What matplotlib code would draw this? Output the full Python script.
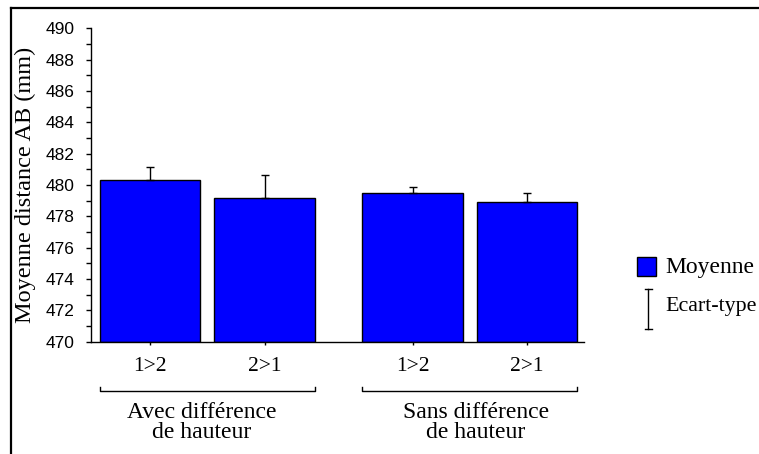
import matplotlib
matplotlib.use('Agg')
import matplotlib.pyplot as plt
from matplotlib.lines import Line2D
from matplotlib.patches import Rectangle
from matplotlib.ticker import MultipleLocator
import numpy as np

# données
groupes = ['Avec différence\nde hauteur', 'Sans différence\nde hauteur']
conditions = ['1>2', '2>1', '1>2', '2>1']
groupe_idx = [0, 0, 1, 1]
moyennes = [480.32, 479.15, 479.47, 478.93]
ecarts = [0.81, 1.47, 0.40, 0.54]

BLEU = '#0000ff'
SERIF = 'Liberation Serif'
SANS = 'Liberation Sans'
ECART_GROUPE = 0.294

W, H = 759, 454
fig = plt.figure(figsize=(W / 100, H / 100), dpi=100)
ax = fig.add_axes([91 / W, 1 - 341.7 / H, (584 - 91) / W, (341.7 - 28.3) / H])

x = np.arange(len(moyennes)) + np.array(groupe_idx) * ECART_GROUPE
largeur = 0.878

ax.bar(x, np.array(moyennes) - 470, bottom=470, width=largeur, color=BLEU,
       edgecolor='black', linewidth=1.0, zorder=2)
ax.errorbar(x, moyennes, yerr=[np.zeros(len(ecarts)), ecarts], fmt='none',
            ecolor='black', elinewidth=1.0, capsize=2.9, capthick=1.0, zorder=3)

ax.set_ylim(470, 490)
ax.set_xlim(-0.518, 3.791)
ax.yaxis.set_major_locator(MultipleLocator(2))
ax.yaxis.set_minor_locator(MultipleLocator(1))
ax.tick_params(axis='y', which='both', direction='out', length=3.8, width=1.0,
               pad=8, labelsize=12.5)
for lab in ax.get_yticklabels():
    lab.set_fontfamily(SANS)
ax.set_xticks(x)
ax.set_xticklabels(conditions, fontfamily=SERIF, fontsize=15.5)
ax.tick_params(axis='x', direction='out', length=2.5, width=1.0, pad=8.5)

for s in ['top', 'right']:
    ax.spines[s].set_visible(False)
for s in ['left', 'bottom']:
    ax.spines[s].set_linewidth(1.0)

fig.text(25 / W, 1 - 185 / H, 'Moyenne distance AB (mm)', fontfamily=SERIF,
         fontsize=17.5, rotation=90, ha='center', va='center')

# accolades de groupe sous l'axe
trans = ax.get_xaxis_transform()
for g, nom in enumerate(groupes):
    xs = x[np.array(groupe_idx) == g]
    x0, x1 = xs.min() - largeur / 2, xs.max() + largeur / 2
    ax.plot([x0, x0, x1, x1], [-0.1436, -0.157, -0.157, -0.1436], color='black',
            linewidth=1.0, transform=trans, clip_on=False)
    cx = (x0 + x1) / 2 + (-0.05 if g == 0 else 0.05)
    ax.text(cx, -0.257, nom, transform=trans, ha='center', va='center',
            fontfamily=SERIF, fontsize=17, linespacing=0.92)

# légende
fig.add_artist(Rectangle((637 / W, 1 - 276 / H), 19 / W, 19 / H,
                         facecolor=BLEU, edgecolor='black', linewidth=1.0,
                         transform=fig.transFigure))
fig.text(665 / W, 1 - 267 / H, 'Moyenne', fontfamily=SERIF, fontsize=17,
         va='center', ha='left')
for xs_, ys_ in [([648, 648], [289, 329]), ([644.5, 652], [289, 289]),
                 ([644.5, 652], [329, 329])]:
    fig.add_artist(Line2D([v / W for v in xs_], [1 - v / H for v in ys_],
                          color='black', linewidth=1.0))
fig.text(665 / W, 1 - 307 / H, 'Ecart-type', fontfamily=SERIF, fontsize=15.8,
         va='center', ha='left')

# cadre extérieur
fig.add_artist(Line2D([11 / W, 1], [1 - 7.5 / H, 1 - 7.5 / H], color='black',
                      linewidth=1.6))
fig.add_artist(Line2D([11 / W, 11 / W], [0, 1 - 7.5 / H], color='black',
                      linewidth=1.6))

fig.savefig('out.png', dpi=100)
